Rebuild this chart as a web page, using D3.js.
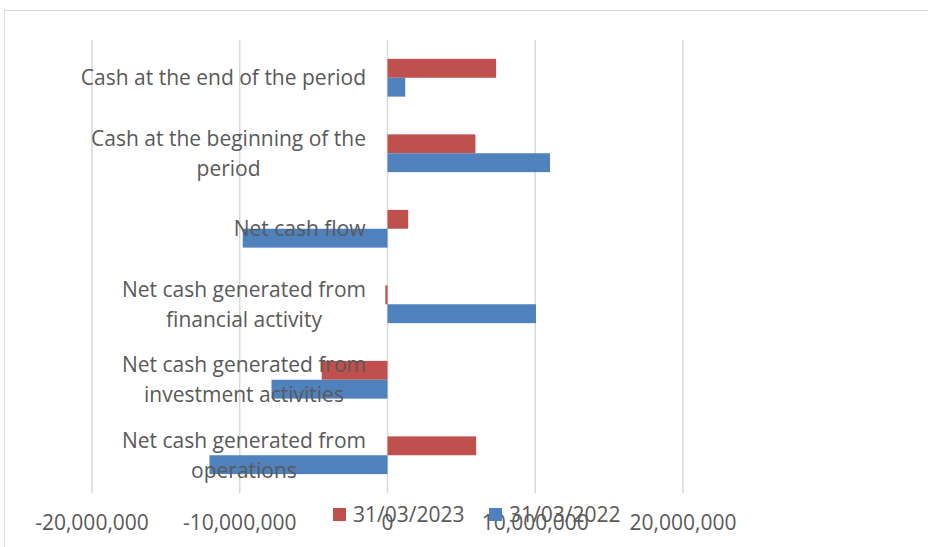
<!DOCTYPE html>
<html>
<head>
<meta charset="utf-8">
<script src="https://cdn.jsdelivr.net/npm/d3@7"></script>
<style>
  body { margin: 0; background: #fff; }
  svg { font-family: "Open Sans", sans-serif; }
</style>
</head>
<body>
<div class="chart"></div>
<script>
// categories from bottom to top (as in the cash flow table)
const categories = [
    'Net cash generated from operations',
    'Net cash generated from investment activities',
    'Net cash generated from financial activity',
    'Net cash flow',
    'Cash at the beginning of the period',
    'Cash at the end of the period'
]
const series = ['31/03/2023', '31/03/2022']
const values2023 = [6000000, -4450000, -150000, 1400000, 5950000, 7350000]
const values2022 = [-12050000, -7850000, 10050000, -9800000, 11000000, 1200000]
const ticks = [-20000000, -10000000, 0, 10000000, 20000000]
const colors = ['#C0504D', '#4F81BD']

const W = 928, H = 547
const margin = { top: 40, right: 245, bottom: 54, left: 92 }
const fontSize = 21

const svg = d3.select('.chart')
    .append('svg')
    .attr('width', W)
    .attr('height', H)

// outer frame
svg.append('rect')
    .attr('x', 4.5).attr('y', 10.5)
    .attr('width', W + 10).attr('height', H + 10)
    .attr('fill', 'none')
    .attr('stroke', '#d9d9d9')

const x = d3.scaleLinear()
    .domain([-20000000, 20000000])
    .range([margin.left, W - margin.right])

// reversed so the first category sits at the bottom
const y = d3.scaleBand()
    .domain(categories.slice().reverse())
    .range([margin.top, H - margin.bottom])
    .paddingInner(0.5)
    .paddingOuter(0.25)

const ySub = d3.scaleBand()
    .domain(series)
    .range([0, y.bandwidth()])

// gridlines
svg.append('g')
    .selectAll('line')
    .data(ticks)
    .join('line')
    .attr('x1', d => x(d)).attr('x2', d => x(d))
    .attr('y1', margin.top).attr('y2', H - margin.bottom)
    .attr('stroke', '#d9d9d9')
    .attr('stroke-width', 1.5)

// bars
const data = categories.map((c, i) => ({ c, vals: [values2023[i], values2022[i]] }))
const groups = svg.selectAll('g.bar')
    .data(data)
    .join('g')
    .attr('class', 'bar')
    .attr('transform', d => `translate(0, ${y(d.c)})`)

groups.selectAll('rect')
    .data(d => d.vals.map((v, j) => ({ v, s: series[j], j })))
    .join('rect')
    .attr('x', d => Math.min(x(0), x(d.v)))
    .attr('y', d => ySub(d.s))
    .attr('width', d => Math.abs(x(d.v) - x(0)))
    .attr('height', ySub.bandwidth())
    .attr('fill', d => colors[d.j])

// category labels, wrapped like the original
const wrapped = {
    'Net cash generated from operations': ['Net cash generated from', 'operations'],
    'Net cash generated from investment activities': ['Net cash generated from', 'investment activities'],
    'Net cash generated from financial activity': ['Net cash generated from', 'financial activity'],
    'Net cash flow': ['Net cash flow'],
    'Cash at the beginning of the period': ['Cash at the beginning of the', 'period'],
    'Cash at the end of the period': ['Cash at the end of the period']
}
const lineH = 30
const labels = svg.append('g')
    .selectAll('text')
    .data(categories)
    .join('text')
    .attr('font-size', fontSize + 'px')
    .attr('fill', '#595959')
    .attr('text-anchor', 'middle')

labels.each(function (c) {
    const lines = wrapped[c]
    const cy = y(c) + y.bandwidth() / 2
    const t = d3.select(this)
    lines.forEach((l, k) => {
        t.append('tspan')
            .attr('x', 0)
            .attr('y', cy + (k - (lines.length - 1) / 2) * lineH)
            .attr('dy', '0.35em')
            .text(l)
    })
})
// right-align block to the left of zero, center-align its lines
labels.each(function () {
    const t = d3.select(this)
    const w = this.getBBox().width
    t.selectAll('tspan').attr('x', 366 - w / 2)
})

// x tick labels (plain hyphen for negatives, like the original)
const fmt = d => d3.format(',')(d).replace('\u2212', '-')
svg.append('g')
    .selectAll('text')
    .data(ticks)
    .join('text')
    .attr('x', d => x(d))
    .attr('y', 523)
    .attr('dy', '0.35em')
    .attr('text-anchor', 'middle')
    .attr('font-size', fontSize + 'px')
    .attr('fill', '#595959')
    .text(d => fmt(d))

// legend
const legend = svg.append('g')
    .selectAll('g')
    .data(series)
    .join('g')
    .attr('transform', (d, i) => `translate(${333 + i * 156}, 508)`)
legend.append('rect')
    .attr('width', 13).attr('height', 13)
    .attr('fill', (d, i) => colors[i])
legend.append('text')
    .attr('x', 20)
    .attr('y', 7)
    .attr('dy', '0.35em')
    .attr('font-size', fontSize + 'px')
    .attr('fill', '#595959')
    .text(d => d)
</script>
</body>
</html>
